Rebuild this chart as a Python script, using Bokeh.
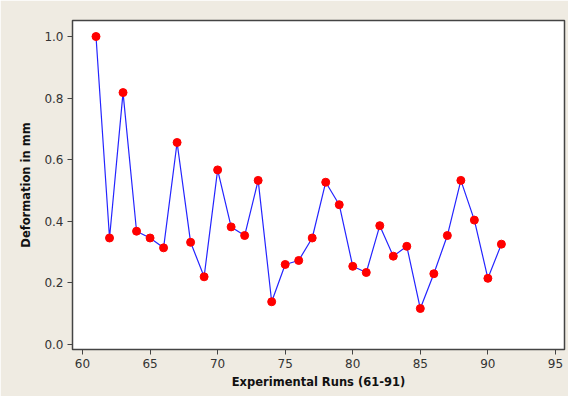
from bokeh.plotting import figure
from bokeh.models import FixedTicker, PrintfTickFormatter, Range1d
from bokeh.embed import file_html
from bokeh.resources import INLINE

runs = list(range(61, 92))
deformation = [1.00, 0.346, 0.818, 0.368, 0.346, 0.314, 0.656, 0.332, 0.220, 0.567,
               0.382, 0.354, 0.533, 0.139, 0.260, 0.273, 0.346, 0.527, 0.454, 0.254,
               0.234, 0.386, 0.287, 0.319, 0.117, 0.230, 0.354, 0.533, 0.404, 0.215,
               0.326]
x_ticks = [60, 65, 70, 75, 80, 85, 90, 95]
y_ticks = [0.0, 0.2, 0.4, 0.6, 0.8, 1.0]

p = figure(width=568, height=396, output_backend="svg", toolbar_location=None,
           x_range=Range1d(59.26, 95.67), y_range=Range1d(-0.016, 1.052),
           min_border_left=72, min_border_top=20, min_border_bottom=47, min_border_right=4)
p.border_fill_color = "#EFEBE2"
p.background_fill_color = "white"
p.outline_line_color = "#444444"
p.outline_line_width = 1.5
p.xgrid.visible = False
p.ygrid.visible = False

p.line(runs, deformation, line_color="#2424FF", line_width=1.2)
p.scatter(runs, deformation, size=8, fill_color="#FF0000", line_color="#FF0000")

for ax in (p.xaxis[0], p.yaxis[0]):
    ax.axis_line_color = "#444444"
    ax.major_tick_line_color = "#444444"
    ax.major_tick_out = 5
    ax.major_tick_in = 0
    ax.minor_tick_line_color = None
    ax.major_label_text_font = "DejaVu Sans"
    ax.major_label_text_font_size = "12px"
    ax.major_label_text_color = "#333333"
    ax.axis_label_text_font = "DejaVu Sans"
    ax.axis_label_text_font_size = "11.5px"
    ax.axis_label_text_font_style = "bold"
    ax.axis_label_text_color = "#111111"

p.xaxis.ticker = FixedTicker(ticks=x_ticks)
p.yaxis.ticker = FixedTicker(ticks=y_ticks)
p.yaxis.formatter = PrintfTickFormatter(format="%.1f")
p.xaxis.axis_label = "Experimental Runs (61-91)"
p.yaxis.axis_label = "Deformation in mm"
p.xaxis.major_label_standoff = 4
p.yaxis.major_label_standoff = 4
p.xaxis.axis_label_standoff = 4
p.yaxis.axis_label_standoff = 8

open("out.html", "w").write(file_html(p, INLINE))
